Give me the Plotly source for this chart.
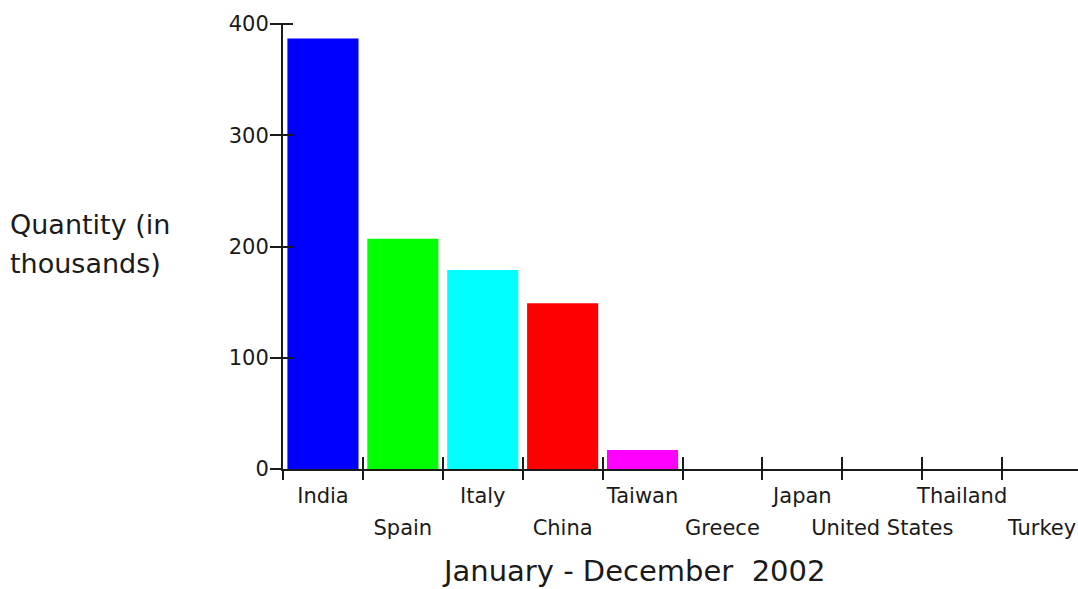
import plotly.graph_objects as go

countries = ["India", "Spain", "Italy", "China", "Taiwan",
             "Greece", "Japan", "United States", "Thailand", "Turkey"]
quantity = [387, 207, 179, 149, 17, 0, 0, 0, 0, 0]
bar_colors = ["#0000FF", "#00FF00", "#00FFFF", "#FF0000", "#FF00FF",
              "#FFFF00", "#0000FF", "#00FF00", "#00FFFF", "#FF0000"]
y_ticks = [0, 100, 200, 300, 400]
x_title = "January - December\u00a0 2002"
y_title_lines = ["Quantity (in", "thousands)"]

FONT = "DejaVu Sans"
INK = "#1a1a1a"

# staggered tick labels: even categories on the first row, odd on the second
idx = list(range(len(countries)))
row1_text = [c if i % 2 == 0 else "" for i, c in enumerate(countries)]
row2_vals = [i for i in idx if i % 2 == 1]
row2_text = [countries[i] for i in row2_vals]
boundaries = [i + 0.5 for i in idx[:-1]]

fig = go.Figure()
fig.add_trace(go.Bar(
    x=countries, y=quantity,
    marker=dict(color=bar_colors, line=dict(width=0)),
    xaxis="x", yaxis="y", showlegend=False, hoverinfo="x+y",
))
# invisible helper traces so the overlay axes (inner tick halves, second
# label row) get drawn
ghost = dict(mode="markers", marker=dict(opacity=0, size=1),
             showlegend=False, hoverinfo="skip")
fig.add_trace(go.Scatter(x=idx, y=quantity, xaxis="x2", yaxis="y2", **ghost))
fig.add_trace(go.Scatter(x=idx, y=quantity, xaxis="x3", yaxis="y", **ghost))

xr = [-0.5, 9.45]
yr = [0, 401]

fig.update_layout(
    width=1078, height=589,
    margin=dict(l=283, r=0, t=23, b=120, autoexpand=False),
    paper_bgcolor="white", plot_bgcolor="white",
    bargap=0.11,
    font=dict(family=FONT, color=INK),
    xaxis=dict(
        type="category", categoryorder="array", categoryarray=countries,
        range=xr, tickmode="array", tickvals=countries, ticktext=row1_text,
        tickson="boundaries", ticks="outside", ticklen=9, tickwidth=2,
        tickcolor=INK, showline=True, linecolor=INK, linewidth=2, tickangle=0,
        showgrid=False, zeroline=False, automargin=False, ticklabelstandoff=7,
        tickfont=dict(size=21, family=FONT, color=INK),
        fixedrange=True,
    ),
    xaxis2=dict(
        type="linear", overlaying="x", anchor="y", side="bottom", range=xr,
        tickmode="array", tickvals=boundaries,
        ticks="inside", ticklen=12, tickwidth=2, tickcolor=INK, automargin=False,
        showticklabels=False, showgrid=False, zeroline=False, showline=False,
        fixedrange=True,
    ),
    xaxis3=dict(
        type="linear", overlaying="x", anchor="y", side="bottom", range=xr,
        tickmode="array", tickvals=row2_vals, ticktext=row2_text, tickangle=0,
        ticks="outside", ticklen=9, tickcolor="rgba(0,0,0,0)", automargin=False,
        ticklabelstandoff=31, tickfont=dict(size=21, family=FONT, color=INK),
        showgrid=False, zeroline=False, showline=False, fixedrange=True,
    ),
    yaxis=dict(
        range=yr, tickmode="array", tickvals=y_ticks, automargin=False,
        ticks="outside", ticklen=11, tickwidth=2, tickcolor=INK,
        showline=True, linecolor=INK, linewidth=2, showgrid=False, zeroline=False,
        ticklabelstandoff=-3, fixedrange=True,
        tickfont=dict(size=21, family=FONT, color=INK),
    ),
    yaxis2=dict(
        range=yr, overlaying="y", anchor="x", side="left", automargin=False,
        tickmode="array", tickvals=y_ticks[1:],
        ticks="inside", ticklen=10, tickwidth=2, tickcolor=INK,
        showticklabels=False, showgrid=False, zeroline=False, showline=False,
        fixedrange=True,
    ),
)

def py2paper(py):
    return (469 - py) / 446

def px2paper(px):
    return (px - 283) / 795

fig.add_annotation(text=x_title, xref="paper", yref="paper",
                   x=px2paper(633), y=py2paper(571), xanchor="center", yanchor="middle",
                   showarrow=False, font=dict(size=29, family=FONT, color=INK))
for line, cy in zip(y_title_lines, [224, 263]):
    fig.add_annotation(text=line, xref="paper", yref="paper",
                       x=px2paper(8), y=py2paper(cy), xanchor="left", yanchor="middle",
                       showarrow=False, font=dict(size=27, family=FONT, color=INK))

fig.write_html(
    "out.html",
    config={"displayModeBar": False},
    post_script="document.body.style.margin='0';document.body.style.overflow='hidden';",
)
